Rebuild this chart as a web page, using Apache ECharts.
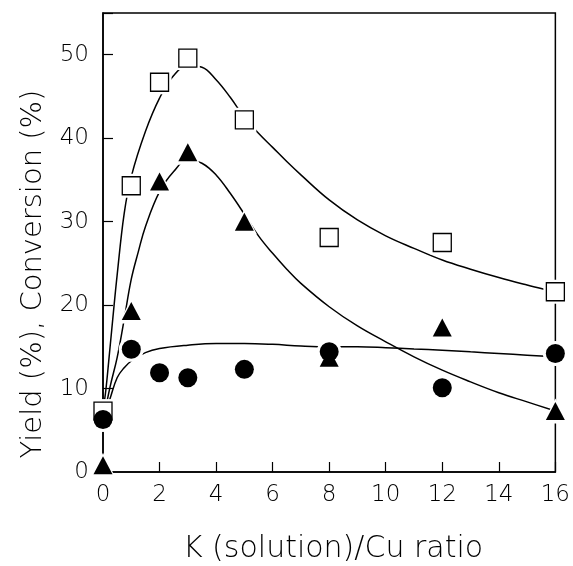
<!DOCTYPE html>
<html>
<head>
<meta charset="utf-8">
<script src="https://cdn.jsdelivr.net/npm/echarts@6/dist/echarts.min.js"></script>
<style>html,body{margin:0;padding:0;background:#fff}#c{width:573px;height:566px}</style>
</head>
<body>
<div id="c"></div>
<script>
// measured points
var ratioX = [0, 1, 2, 3, 5, 8, 12, 16];
var conversion = [7.3, 34.3, 46.7, 49.6, 42.2, 28.1, 27.5, 21.6];   // open squares
var triangleY = [0.8, 19.3, 34.8, 38.3, 30.0, 13.7, 17.3, 7.3];     // filled triangles
var circleY = [6.3, 14.7, 11.9, 11.3, 12.3, 14.4, 10.1, 14.2];      // filled circles

// fitted curves
var convCurveX = [0, 0.1, 0.2, 0.35, 0.5, 0.75, 1, 1.5, 2, 2.5, 3, 3.5, 4, 4.5, 5, 5.5, 6, 6.5, 7, 8, 9, 10, 11, 12, 13, 14, 15, 15.6];
var convCurveY = [7.3, 9.8, 13.2, 18.5, 23.6, 31.0, 35.4, 40.8, 44.8, 47.5, 48.7, 48.5, 47.0, 44.9, 42.5, 40.6, 38.9, 37.2, 35.6, 32.6, 30.2, 28.3, 26.8, 25.4, 24.3, 23.3, 22.4, 21.9];
var triCurveX = [0, 0.25, 0.5, 0.75, 1, 1.25, 1.5, 2, 2.5, 3, 3.5, 4, 4.5, 5, 5.5, 6, 6.5, 7, 8, 9, 10, 11, 12, 13, 14, 15, 16];
var triCurveY = [6.0, 10.2, 13.7, 18.3, 23.1, 26.4, 29.4, 33.6, 36.0, 37.4, 37.0, 35.6, 33.4, 30.9, 28.3, 26.2, 24.3, 22.6, 19.8, 17.5, 15.6, 13.8, 12.2, 10.8, 9.5, 8.4, 7.3];
var cirCurveX = [0, 0.25, 0.5, 0.75, 1, 1.5, 2, 3, 4, 5, 6, 7, 8, 9, 10, 11, 12, 13, 14, 15, 16];
var cirCurveY = [6.3, 8.8, 11.3, 12.5, 13.3, 14.3, 14.8, 15.2, 15.4, 15.4, 15.3, 15.1, 15.0, 15.0, 14.9, 14.75, 14.6, 14.4, 14.2, 14.0, 13.8];

var xTicks = [0, 2, 4, 6, 8, 10, 12, 14, 16];
var yTicks = [0, 10, 20, 30, 40, 50];
var xTitle = 'K (solution)/Cu ratio';
var yTitle = 'Yield (%), Conversion (%)';

function pairs(xs, ys) { return xs.map(function (x, i) { return [x, ys[i]]; }); }

var FONT = 'DejaVu Sans';
var chart = echarts.init(document.getElementById('c'), null, {renderer: 'canvas'});

function curve(xs, ys) {
  return {type: 'line', data: pairs(xs, ys), smooth: 0.4, showSymbol: false, symbol: 'none',
    lineStyle: {color: '#000', width: 1.5}, z: 2, silent: true};
}
function halo(ys, sym, size) {
  return {type: 'scatter', data: pairs(ratioX, ys), symbol: sym, symbolSize: size,
    itemStyle: {color: '#fff', opacity: 1}, z: 3, silent: true};
}

chart.setOption({
  animation: false,
  backgroundColor: '#fff',
  grid: {left: 103, right: 16, top: 13, bottom: 94, show: true, borderColor: '#000', borderWidth: 1.5, containLabel: false},
  graphic: [
    {type: 'text', x: 333, y: 549, style: {text: xTitle, font: '300 30px "DejaVu Sans"', fill: '#000',
      textAlign: 'center', textVerticalAlign: 'middle'}},
    {type: 'text', x: 33, y: 274, rotation: Math.PI / 2, style: {text: yTitle, font: '300 29px "DejaVu Sans"', fill: '#000',
      textAlign: 'center', textVerticalAlign: 'middle'}}
  ],
  xAxis: {
    type: 'value', min: xTicks[0], max: xTicks[xTicks.length - 1], interval: 2,
    axisLine: {show: true, lineStyle: {color: '#000', width: 1.5}},
    axisTick: {show: true, inside: true, length: 10, lineStyle: {color: '#000', width: 1.2}},
    axisLabel: {fontFamily: FONT, fontSize: 23, fontWeight: 300, color: '#000', margin: 12},
    splitLine: {show: false}
  },
  yAxis: {
    type: 'value', min: yTicks[0], max: 55, interval: 10,
    axisLine: {show: true, lineStyle: {color: '#000', width: 1.5}},
    axisTick: {show: true, inside: true, length: 10, lineStyle: {color: '#000', width: 1.2}},
    axisLabel: {fontFamily: FONT, fontSize: 23, fontWeight: 300, color: '#000', margin: 14,
      formatter: function (v) { return yTicks.indexOf(v) >= 0 ? String(v) : ''; }},
    splitLine: {show: false}
  },
  series: [
    curve(convCurveX, convCurveY),
    curve(triCurveX, triCurveY),
    curve(cirCurveX, cirCurveY),
    halo(conversion, 'rect', 24),
    halo(triangleY, 'triangle', 25),
    halo(circleY, 'circle', 25),
    {type: 'scatter', data: pairs(ratioX, conversion), symbol: 'rect', symbolSize: 18,
      itemStyle: {color: '#fff', borderColor: '#000', borderWidth: 1.3, opacity: 1}, z: 4},
    {type: 'scatter', data: pairs(ratioX, triangleY), symbol: 'triangle', symbolSize: [19, 18],
      itemStyle: {color: '#000', opacity: 1}, z: 5},
    {type: 'scatter', data: pairs(ratioX, circleY), symbol: 'circle', symbolSize: 19,
      itemStyle: {color: '#000', opacity: 1}, z: 6}
  ]
});
</script>
</body>
</html>
